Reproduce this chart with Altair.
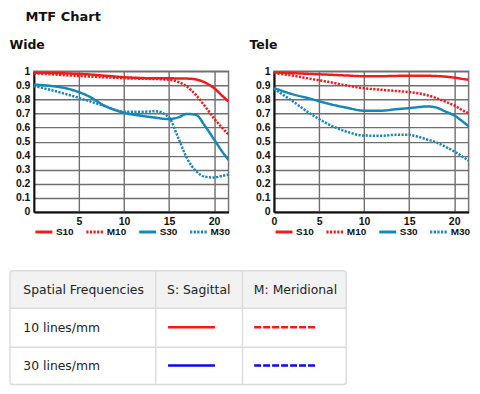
import altair as alt
import pandas as pd

# ---- data ----
freq = [0, 2, 4, 6, 8, 10, 12, 13.5, 15, 16, 17, 18, 19, 20, 21, 21.6]
series = ["S10", "M10", "S30", "M30"]

wide_S10 = [0.99, 0.988, 0.984, 0.978, 0.968, 0.958, 0.952, 0.95, 0.95, 0.949, 0.948, 0.942, 0.92, 0.88, 0.82, 0.785]
wide_M10 = [0.985, 0.978, 0.97, 0.963, 0.957, 0.95, 0.947, 0.945, 0.94, 0.925, 0.89, 0.83, 0.75, 0.665, 0.59, 0.55]
wide_S30 = [0.905, 0.895, 0.872, 0.825, 0.75, 0.705, 0.683, 0.67, 0.66, 0.672, 0.697, 0.69, 0.61, 0.515, 0.42, 0.37]
wide_M30 = [0.895, 0.865, 0.83, 0.79, 0.75, 0.712, 0.712, 0.716, 0.67, 0.53, 0.38, 0.29, 0.25, 0.245, 0.258, 0.265]

tele_S10 = [0.992, 0.987, 0.981, 0.976, 0.97, 0.965, 0.965, 0.967, 0.969, 0.969, 0.968, 0.966, 0.962, 0.955, 0.945, 0.94]
tele_M10 = [0.988, 0.97, 0.947, 0.925, 0.9, 0.879, 0.868, 0.86, 0.852, 0.844, 0.83, 0.81, 0.785, 0.757, 0.72, 0.70]
tele_S30 = [0.88, 0.838, 0.805, 0.77, 0.742, 0.72, 0.72, 0.73, 0.738, 0.745, 0.75, 0.742, 0.715, 0.686, 0.64, 0.61]
tele_M30 = [0.876, 0.79, 0.70, 0.625, 0.572, 0.543, 0.542, 0.548, 0.548, 0.535, 0.515, 0.495, 0.465, 0.43, 0.39, 0.365]

wide_xticks = [5, 10, 15, 20]
tele_xticks = [0, 5, 10, 15, 20]
y_ticks = [0, 0.1, 0.2, 0.3, 0.4, 0.5, 0.6, 0.7, 0.8, 0.9, 1]

table_header = ["Spatial Frequencies", "S: Sagittal", "M: Meridional"]
table_rows = ["10 lines/mm", "30 lines/mm"]

# ---- styles ----
line_colors = ["#ee1c1c", "#ee1c1c", "#1787b8", "#1787b8"]
line_dashes = [[1, 0], [2.2, 1.4], [1, 0], [2.2, 1.4]]
table_colors = ["#f51a1a", "#0a0aee"]
AX_FONT = "Liberation Sans"


def make_df(vals):
    rows = []
    for s, v in zip(series, vals):
        for f, m in zip(freq, v):
            rows.append({"freq": f, "mtf": m, "series": s})
    return pd.DataFrame(rows)


def legend():
    return alt.Legend(title=None, orient="bottom", direction="horizontal",
                      columns=4, symbolType="stroke", symbolSize=289,
                      symbolStrokeWidth=3, labelFont=AX_FONT,
                      labelFontSize=10, labelFontWeight="bold",
                      labelColor="#111", columnPadding=6, offset=-6,
                      padding=0, labelOffset=2)


def panel(name, vals, xticks):
    df = make_df(vals)
    return alt.Chart(df, title=alt.TitleParams(
        name, anchor="start", font="DejaVu Sans", fontSize=12.5, fontWeight="bold",
        color="#111", offset=14.5, dx=-6)).mark_line(
        interpolate="monotone", strokeWidth=2.5, clip=True
    ).encode(
        x=alt.X("freq:Q", title=None,
                scale=alt.Scale(domain=[0, 21.6], nice=False, zero=False),
                axis=alt.Axis(values=xticks, ticks=False, grid=True, labelPadding=5,
                              domainColor="#111", domainWidth=2, gridColor="#6f6f6f",
                              gridWidth=1.4, labelFont=AX_FONT, labelFontSize=10.5,
                              labelFontWeight="bold", labelColor="#111", labelFlush=False)),
        y=alt.Y("mtf:Q", title=None,
                scale=alt.Scale(domain=[0, 1], nice=False),
                axis=alt.Axis(values=y_ticks, format=".1~f", ticks=False, grid=True,
                              labelPadding=4, domainColor="#111", domainWidth=2,
                              gridColor="#6f6f6f", gridWidth=1.4,
                              labelFont=AX_FONT, labelFontSize=10.5,
                              labelFontWeight="bold", labelColor="#111")),
        color=alt.Color("series:N", scale=alt.Scale(domain=series, range=line_colors),
                        legend=legend()),
        strokeDash=alt.StrokeDash("series:N", scale=alt.Scale(domain=series, range=line_dashes),
                                  legend=legend()),
    ).properties(width=195, height=141,
                 view=alt.ViewBackground(stroke="#777", strokeWidth=1.5))


wide = panel("Wide", [wide_S10, wide_M10, wide_S30, wide_M30], wide_xticks)
tele = panel("Tele", [tele_S10, tele_M10, tele_S30, tele_M30], tele_xticks)

charts = alt.hconcat(wide, tele, spacing=45.6, bounds="flush").resolve_scale(
    color="independent", strokeDash="independent")

# ---- table ----
TW, TH = 337, 114
SHIFT = 24   # table starts left of the plot origin
col_x = [0, 146, 233, TW]
row_y = [0, 37.6, 76.6, TH]
text_pad = 13.4

sx = alt.Scale(domain=[0, TW], range=[-SHIFT, TW - SHIFT], nice=False, zero=False)
sy = alt.Scale(domain=[0, TH], nice=False, zero=False, reverse=True)

header_bg = pd.DataFrame({"x0": [0], "x1": [TW], "y0": [0], "y1": [row_y[1]]})
hdr = alt.Chart(header_bg).mark_rect(color="#f2f2f2", cornerRadiusTopLeft=3,
                                     cornerRadiusTopRight=3, clip=False).encode(
    x=alt.X("x0:Q", scale=sx, axis=None), x2="x1:Q",
    y=alt.Y("y0:Q", scale=sy, axis=None), y2="y1:Q")

border = alt.Chart(pd.DataFrame({"x0": [0], "x1": [TW], "y0": [0], "y1": [TH]})).mark_rect(
    fillOpacity=0, stroke="#dcdcdc", strokeWidth=1.5, cornerRadius=3).encode(
    x=alt.X("x0:Q", scale=sx, axis=None), x2="x1:Q",
    y=alt.Y("y0:Q", scale=sy, axis=None), y2="y1:Q")

hlines = alt.Chart(pd.DataFrame({"y": row_y[1:3], "x0": [0, 0], "x1": [TW, TW]})).mark_rule(
    color="#dcdcdc", strokeWidth=1.5).encode(
    y=alt.Y("y:Q", scale=sy, axis=None),
    x=alt.X("x0:Q", scale=sx, axis=None), x2="x1:Q")

vlines = alt.Chart(pd.DataFrame({"x": col_x[1:3]})).mark_rule(
    color="#dcdcdc", strokeWidth=1.5).encode(
    x=alt.X("x:Q", scale=sx, axis=None), y=alt.value(0), y2=alt.value(TH))

cells = []
for i, t in enumerate(table_header):
    cells.append({"x": col_x[i] + (text_pad if i == 0 else 11.4), "y": (row_y[0] + row_y[1]) / 2, "t": t})
for r, t in enumerate(table_rows):
    cells.append({"x": col_x[0] + text_pad, "y": (row_y[r + 1] + row_y[r + 2]) / 2, "t": t})
texts = alt.Chart(pd.DataFrame(cells)).mark_text(
    align="left", baseline="middle", font="DejaVu Sans", fontSize=12.4, color="#222").encode(
    x=alt.X("x:Q", scale=sx, axis=None), y=alt.Y("y:Q", scale=sy, axis=None), text="t:N")

samples = []
for r in range(2):
    yc = (row_y[r + 1] + row_y[r + 2]) / 2 - 0.5
    samples.append({"x0": 158.4, "x1": 205.4, "y": yc, "c": table_colors[r], "kind": "S"})
    samples.append({"x0": 244.7, "x1": 306.7, "y": yc, "c": table_colors[r], "kind": "M"})
samp = alt.Chart(pd.DataFrame(samples)).mark_rule(strokeWidth=2.5).encode(
    x=alt.X("x0:Q", scale=sx, axis=None), x2="x1:Q",
    y=alt.Y("y:Q", scale=sy, axis=None),
    color=alt.Color("c:N", scale=None, legend=None),
    strokeDash=alt.StrokeDash("kind:N", scale=alt.Scale(domain=["S", "M"], range=[[1, 0], [7, 2]]),
                              legend=None))

table = alt.layer(hdr, hlines, vlines, border, texts, samp).properties(
    width=TW - SHIFT, height=TH, view=alt.ViewBackground(strokeOpacity=0))

chart = alt.vconcat(charts, table, spacing=31, title=alt.TitleParams(
    "MTF Chart", anchor="start", font="DejaVu Sans", fontSize=13, fontWeight="bold",
    color="#111", dx=17, offset=15)).properties(
    padding={"top": 2, "left": 0, "right": 0, "bottom": 0}).resolve_scale(
    color="independent", strokeDash="independent")

chart.save("out.html", embed_options={"renderer": "svg", "actions": False})
